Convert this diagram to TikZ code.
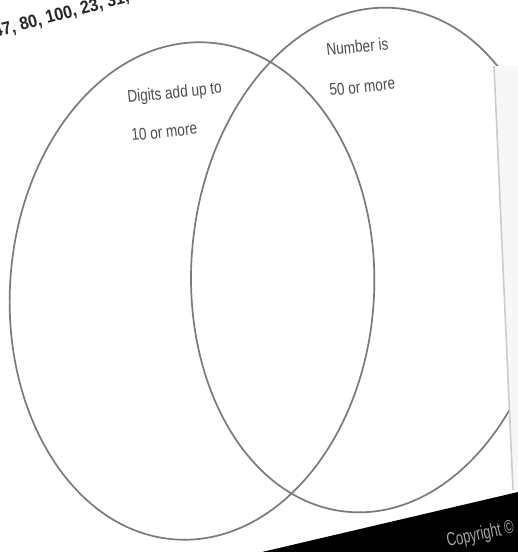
\documentclass[tikz,border=0pt]{standalone}
\usepackage{fontspec}
\setmainfont{Liberation Sans}
\begin{document}
\begin{tikzpicture}[x=1pt,y=-1pt,
  ring/.style={draw=black!52, line width=1.7pt},
  lbl/.style={anchor=base west, inner sep=0pt, text=black!70, rotate=6,
              font=\fontsize{17}{20}\selectfont, xscale=0.8},
  nums/.style={anchor=base west, inner sep=0pt, text=black!85, rotate=15,
               font=\bfseries\fontsize{18}{20}\selectfont, xscale=0.9}]
\useasboundingbox (0,0) rectangle (518,552);
\clip (0,0) rectangle (518,552);
\fill[white] (0,0) rectangle (518,552);
% Venn circles
\coordinate (cl) at (192,291);
\coordinate (cr) at (372,260);
\draw[ring, rotate around={-3.8:(cl)}] (cl) ellipse [x radius=182, y radius=249];
\draw[ring, rotate around={-6:(cr)}] (cr) ellipse [x radius=180, y radius=253];
% page edge hiding the right part of the circle
\coordinate (e1) at (494,66);
\coordinate (e2) at (513,490);
\fill[black!3] (e1) -- (e2) -- (518,490) -- (518,66) -- cycle;
\draw[black!20, line width=1.6pt] (e1) -- (e2);
% black band
\coordinate (b1) at (262,552);
\coordinate (b2) at (518,492);
\coordinate (b3) at (518,552);
\fill[black] (b1) -- (b2) -- (b3) -- cycle;
% labels
\node[lbl] (l1) at (128,103) {Digits add up to};
\node[lbl] (l2) at (132,141) {10 or more};
\node[lbl] (r1) at (327,56) {Number is};
\node[lbl] (r2) at (330,96) {50 or more};
% top list
\node[nums] (top) at (-5,38) {47, 80, 100, 23, 31, 64,};
\node[anchor=base west, inner sep=0pt, text=black!35, rotate=12,
      font=\fontsize{19}{22}\selectfont, xscale=0.68] (copy) at (448,547) {Copyright ©};
\end{tikzpicture}
\end{document}
